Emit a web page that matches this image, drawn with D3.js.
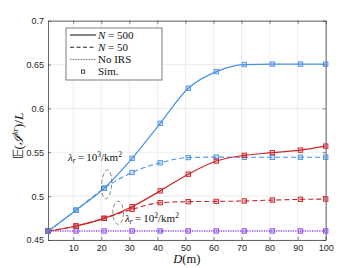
<!DOCTYPE html>
<html>
<head>
<meta charset="utf-8">
<script src="https://cdn.jsdelivr.net/npm/d3@7"></script>
<style>
  body { margin: 0; background: #fff; }
  svg { display: block; }
  .tick text { font-family: "Liberation Sans", Arial, sans-serif; font-size: 9px; fill: #262626; }
</style>
</head>
<body>
<div id="grafica"></div>
<script>
// datos
var distancias = [1, 11, 21, 31, 41, 51, 61, 71, 81, 91, 100];
var azul500 = [0.460, 0.484, 0.509, 0.543, 0.583, 0.623, 0.642, 0.650, 0.6505, 0.6505, 0.6505];
var azul50  = [0.460, 0.484, 0.509, 0.527, 0.538, 0.5440, 0.5445, 0.5443, 0.5443, 0.5443, 0.5443];
var rojo500 = [0.460, 0.466, 0.4747, 0.488, 0.506, 0.525, 0.540, 0.5465, 0.5495, 0.5525, 0.557];
var rojo50  = [0.460, 0.466, 0.4747, 0.485, 0.4925, 0.4937, 0.494, 0.4945, 0.4955, 0.4963, 0.4967];
var sinIRS  = [0.4603, 0.4603, 0.4603, 0.4603, 0.4603, 0.4603, 0.4603, 0.4603, 0.4603, 0.4603, 0.4603];
var ticksX = [10, 20, 30, 40, 50, 60, 70, 80, 90, 100];
var ticksY = [0.45, 0.5, 0.55, 0.6, 0.65, 0.7];

var ancho = 357, altura = 268;
var margen = { arriba: 20.7, derecha: 31.3, abajo: 28, izquierda: 48 };

var svg = d3.select("#grafica").append("svg")
    .attr("width", ancho)
    .attr("height", altura);

var x = d3.scaleLinear().domain([1, 100]).range([margen.izquierda, ancho - margen.derecha]);
var y = d3.scaleLinear().domain([0.45, 0.7]).range([altura - margen.abajo, margen.arriba]);

var colAzul = "#4a90e6", colRojo = "#cc2529", colMorado = "#8a45f0", colEje = "#262626";

// rejilla
svg.append("g").selectAll("line").data(ticksX).enter().append("line")
    .attr("x1", function (d) { return x(d); }).attr("x2", function (d) { return x(d); })
    .attr("y1", y(0.45)).attr("y2", y(0.7))
    .attr("stroke", "#e3e3e3").attr("stroke-width", 0.6);
svg.append("g").selectAll("line").data(ticksY).enter().append("line")
    .attr("y1", function (d) { return y(d); }).attr("y2", function (d) { return y(d); })
    .attr("x1", x(1)).attr("x2", x(100))
    .attr("stroke", "#e3e3e3").attr("stroke-width", 0.6);

// ejes
var ejeX = svg.append("g")
    .attr("transform", "translate(0," + y(0.45) + ")")
    .call(d3.axisBottom(x).tickValues(ticksX).tickSizeInner(-3).tickSizeOuter(0).tickPadding(5));
var ejeY = svg.append("g")
    .attr("transform", "translate(" + x(1) + ",0)")
    .call(d3.axisLeft(y).tickValues(ticksY).tickFormat(d3.format("")).tickSizeInner(-3).tickSizeOuter(0).tickPadding(4));
var ejeArriba = svg.append("g")
    .attr("transform", "translate(0," + y(0.7) + ")")
    .call(d3.axisTop(x).tickValues(ticksX).tickSizeInner(-3).tickSizeOuter(0).tickFormat(""));
var ejeDerecha = svg.append("g")
    .attr("transform", "translate(" + x(100) + ",0)")
    .call(d3.axisRight(y).tickValues(ticksY).tickSizeInner(-3).tickSizeOuter(0).tickFormat(""));
[ejeX, ejeY, ejeArriba, ejeDerecha].forEach(function (e) {
    e.selectAll(".domain").attr("stroke", colEje).attr("stroke-width", 0.7);
    e.selectAll(".tick line").attr("stroke", colEje).attr("stroke-width", 0.6);
});

// curvas
var linea = d3.line()
    .x(function (d) { return x(d[0]); })
    .y(function (d) { return y(d[1]); })
    .curve(d3.curveMonotoneX);

var series = [
    { valores: sinIRS, color: colMorado, guiones: "1.2,1.2", grosor: 1.5 },
    { valores: rojo50, color: colRojo, guiones: "5,3", grosor: 1.1 },
    { valores: azul50, color: colAzul, guiones: "5,3", grosor: 1.1 },
    { valores: rojo500, color: colRojo, guiones: null, grosor: 1.2 },
    { valores: azul500, color: colAzul, guiones: null, grosor: 1.2 }
];

series.forEach(function (s) {
    var puntos = distancias.map(function (d, i) { return [d, s.valores[i]]; });
    svg.append("path")
        .datum(puntos)
        .attr("d", linea)
        .attr("fill", "none")
        .attr("stroke", s.color)
        .attr("stroke-width", s.grosor)
        .attr("stroke-dasharray", s.guiones);
    svg.append("g").selectAll("rect").data(puntos).enter().append("rect")
        .attr("x", function (d) { return x(d[0]) - 2.2; })
        .attr("y", function (d) { return y(d[1]) - 2.2; })
        .attr("width", 4.4).attr("height", 4.4)
        .attr("fill", s.color).attr("fill-opacity", 0.25)
        .attr("stroke", s.color).attr("stroke-width", 0.9);
});

// anotaciones
function etiquetaLambda(px, py, exp) {
    var t = svg.append("text")
        .attr("x", px).attr("y", py)
        .attr("font-family", "Liberation Serif, Times New Roman, serif")
        .attr("font-size", 11).attr("fill", "#111");
    t.append("tspan").attr("font-style", "italic").text("λ");
    t.append("tspan").attr("font-style", "italic").attr("font-size", 7.5).attr("dy", 2).text("r");
    t.append("tspan").attr("dy", -2).text("\u2009=\u200910");
    t.append("tspan").attr("font-size", 7.5).attr("dy", -4).text(exp);
    t.append("tspan").attr("dy", 4).text("/km");
    t.append("tspan").attr("font-size", 7.5).attr("dy", -4).text("2");
}
etiquetaLambda(68, 161, "3");
etiquetaLambda(125, 222, "2");

svg.append("ellipse")
    .attr("cx", x(21.9)).attr("cy", y(0.5134))
    .attr("rx", 5).attr("ry", 14.5)
    .attr("transform", "rotate(4," + x(21.9) + "," + y(0.5134) + ")")
    .attr("fill", "none").attr("stroke", "#555").attr("stroke-width", 0.7)
    .attr("stroke-dasharray", "4,2.5");
svg.append("ellipse")
    .attr("cx", x(26)).attr("cy", y(0.481))
    .attr("rx", 5.3).attr("ry", 11.5)
    .attr("fill", "none").attr("stroke", "#555").attr("stroke-width", 0.7)
    .attr("stroke-dasharray", "4,2.5");

// leyenda
var leyenda = svg.append("g");
leyenda.append("rect")
    .attr("x", 66).attr("y", 28).attr("width", 96).attr("height", 52)
    .attr("fill", "#fff").attr("stroke", colEje).attr("stroke-width", 0.6);
var entradas = [
    { texto: ["N", " = 500"], guiones: null, grosor: 1.1 },
    { texto: ["N", " = 50"], guiones: "4,2.5", grosor: 1.1 },
    { texto: ["", "No IRS"], guiones: "0.8,0.8", grosor: 0.8 },
    { texto: ["", "Sim."], guiones: null, grosor: 0 }
];
entradas.forEach(function (e, i) {
    var py = 35 + i * 12.2;
    if (e.grosor > 0) {
        leyenda.append("line")
            .attr("x1", 70).attr("x2", 96).attr("y1", py).attr("y2", py)
            .attr("stroke", "#222").attr("stroke-width", e.grosor)
            .attr("stroke-dasharray", e.guiones);
    } else {
        leyenda.append("rect")
            .attr("x", 81.5).attr("y", py - 1.6).attr("width", 3.2).attr("height", 3.2)
            .attr("fill", "none").attr("stroke", "#222").attr("stroke-width", 0.8);
    }
    var t = leyenda.append("text")
        .attr("x", 98).attr("y", py + 3.6)
        .attr("font-family", "Liberation Serif, Times New Roman, serif")
        .attr("font-size", 11).attr("fill", "#111");
    if (e.texto[0]) t.append("tspan").attr("font-style", "italic").text(e.texto[0]);
    t.append("tspan").text(e.texto[1]);
});

// titulos de ejes
var tx = svg.append("text")
    .attr("x", x(50.5)).attr("y", 263)
    .attr("text-anchor", "middle")
    .attr("font-family", "Liberation Serif, Times New Roman, serif")
    .attr("font-size", 12.5).attr("fill", "#111");
tx.append("tspan").attr("font-style", "italic").text("D");
tx.append("tspan").text("(m)");

var ty = svg.append("text")
    .attr("transform", "translate(23,136) rotate(-90)")
    .attr("text-anchor", "middle")
    .attr("font-family", "Liberation Serif, Times New Roman, serif")
    .attr("font-size", 13.5).attr("fill", "#111");
ty.append("tspan").text("\u{1D53C}(");
ty.append("tspan").attr("font-style", "italic").text("\u2110");
ty.append("tspan").attr("font-style", "italic").attr("font-size", 8).attr("dy", -5).text("kr");
ty.append("tspan").attr("dy", 5).text(")/");
ty.append("tspan").attr("font-style", "italic").text("L");
</script>
</body>
</html>
